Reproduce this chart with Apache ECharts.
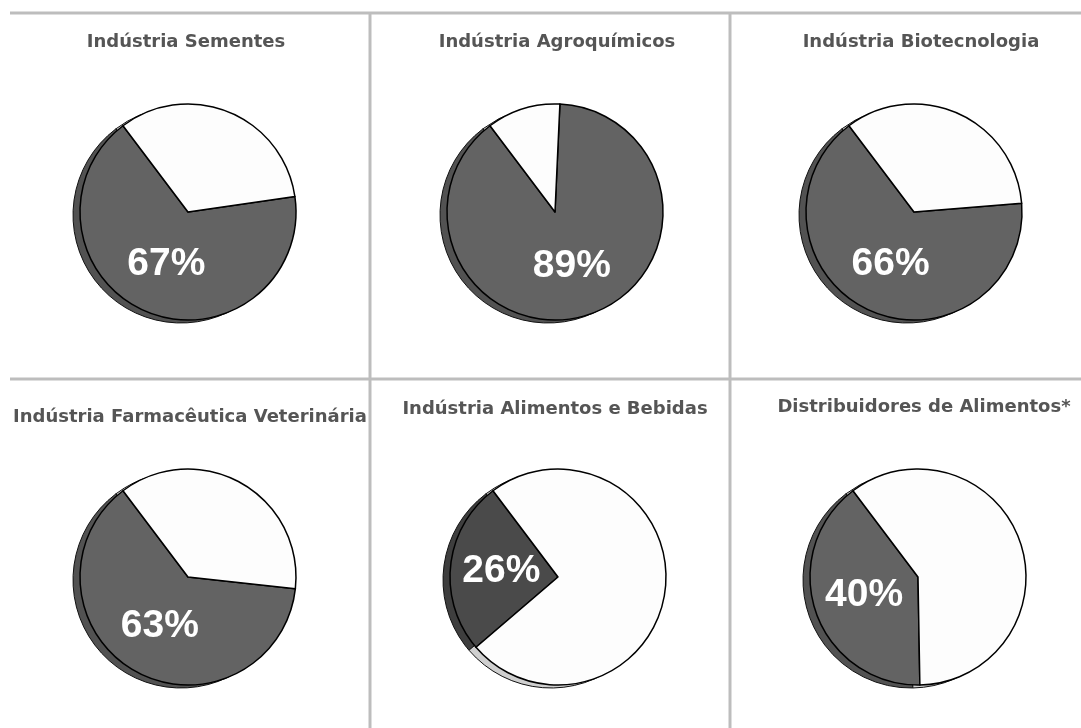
<!DOCTYPE html>
<html>
<head>
<meta charset="utf-8">
<title>Participação por setor</title>
<script src="https://cdn.jsdelivr.net/npm/echarts@6/dist/echarts.min.js"></script>
<style>
  html, body { margin: 0; padding: 0; background: #ffffff; }
  #chart { width: 1081px; height: 728px; }
</style>
</head>
<body>
<div id="chart"></div>
<script>
// Sector names, shown above each pie
const sectors = [
  'Indústria Sementes',
  'Indústria Agroquímicos',
  'Indústria Biotecnologia',
  'Indústria Farmacêutica Veterinária',
  'Indústria Alimentos e Bebidas',
  'Distribuidores de Alimentos*'
];
// Highlighted share (%) and the remaining share (%) per sector
const sharePct = [67, 89, 66, 63, 26, 40];
const restPct  = [33, 11, 34, 37, 74, 60];

// Layout of the 3 x 2 panel grid
const pieCenters = [[188, 212], [555, 212], [914, 212], [188, 577], [558, 577], [918, 577]];
const titlePos   = [[186, 42, 'center'], [557, 42, 'center'], [921, 42, 'center'],
                    [13, 417, 'left'], [555, 409, 'center'], [924, 407, 'center']];
const shareColors  = ['#636363', '#636363', '#636363', '#636363', '#4a4a4a', '#636363'];
const shadowColors = ['#525252', '#525252', '#525252', '#525252', '#3e3e3e', '#525252'];
const RADIUS = 108;

const chart = echarts.init(document.getElementById('chart'), null, { renderer: 'canvas' });

const series = [];
sectors.forEach((name, i) => {
  const [cx, cy] = pieCenters[i];
  const common = {
    type: 'pie',
    radius: RADIUS,
    startAngle: 127,
    clockwise: false,
    silent: true,
    animation: false,
    avoidLabelOverlap: false,
    labelLine: { show: false },
    emphasis: { disabled: true }
  };
  // depth edge of the disc, slightly offset to the lower left
  series.push(Object.assign({}, common, {
    name: name + ' (borda)',
    center: [cx - 7, cy + 3],
    z: 1,
    label: { show: false },
    itemStyle: { borderColor: '#111', borderWidth: 1 },
    data: [
      { value: sharePct[i], itemStyle: { color: shadowColors[i] } },
      { value: restPct[i], itemStyle: { color: '#cfcfcf' } }
    ]
  }));
  series.push(Object.assign({}, common, {
    name: name,
    center: [cx, cy],
    z: 2,
    itemStyle: { borderColor: '#000', borderWidth: 1.5 },
    data: [
      {
        value: sharePct[i],
        itemStyle: { color: shareColors[i] },
        label: {
          show: true,
          position: 'inside',
          formatter: '{c}%',
          color: '#ffffff',
          fontFamily: 'Liberation Sans, Arial, sans-serif',
          fontWeight: 'bold',
          fontSize: 39,
          textBorderWidth: 0
        }
      },
      { value: restPct[i], itemStyle: { color: '#fdfdfd' }, label: { show: false } }
    ]
  }));
});

const graphics = [];
sectors.forEach((name, i) => {
  const [x, y, align] = titlePos[i];
  graphics.push({
    type: 'text',
    z: 10,
    silent: true,
    style: {
      text: name,
      x: x,
      y: y,
      align: align,
      verticalAlign: 'middle',
      fill: '#555555',
      font: 'bold 18px "DejaVu Sans", sans-serif'
    }
  });
});
// keep the long title inside its panel
graphics.push({
  type: 'rect', z: 11, silent: true,
  shape: { x: 371, y: 398, width: 24, height: 36 },
  style: { fill: '#ffffff' }
});
// panel separators
const lineStyle = { stroke: '#bdbdbd', lineWidth: 3 };
[
  [10, 13, 1081, 13],
  [10, 379, 1081, 379],
  [370, 13, 370, 728],
  [730, 13, 730, 728]
].forEach(([x1, y1, x2, y2]) => {
  graphics.push({
    type: 'line', z: 12, silent: true,
    shape: { x1, y1, x2, y2 },
    style: lineStyle
  });
});

chart.setOption({
  backgroundColor: '#ffffff',
  animation: false,
  tooltip: { show: false },
  legend: { show: false },
  series: series,
  graphic: { elements: graphics }
});
</script>
</body>
</html>
